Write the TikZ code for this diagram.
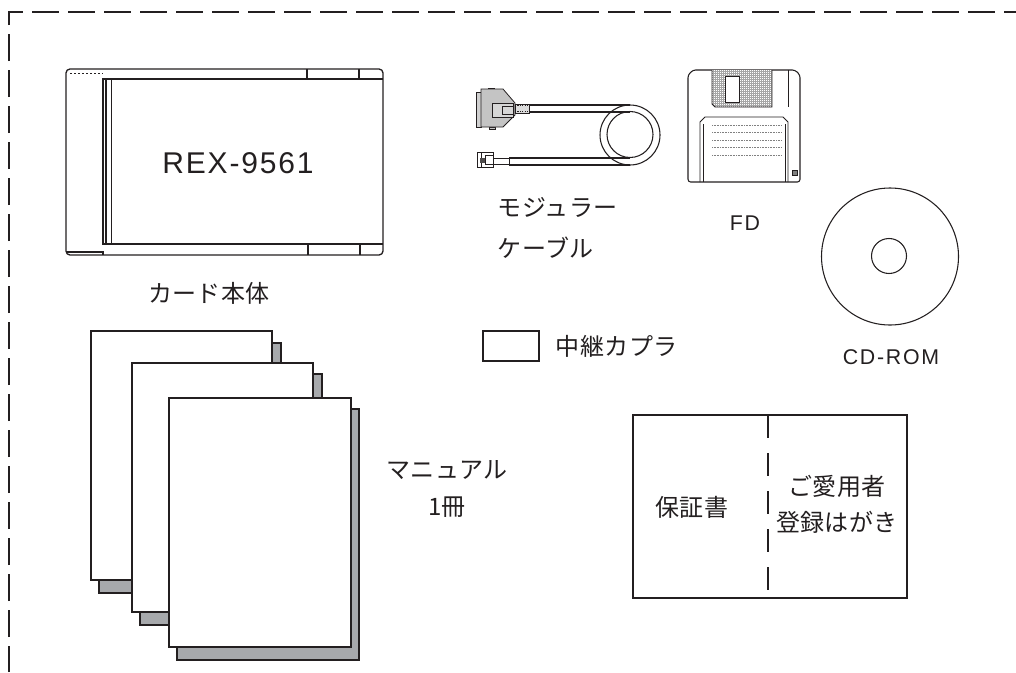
\documentclass[tikz,border=0pt]{standalone}
\usepackage{fontspec}
\setmainfont{Liberation Sans}
\newfontfamily\jpfont[LetterSpace=2]{Noto Sans CJK JP}
\newfontfamily\modelfont[LetterSpace=6]{Liberation Sans}
\newfontfamily\tagfont[LetterSpace=8]{Liberation Sans}
\usetikzlibrary{positioning, calc}
\definecolor{inkgray}{HTML}{231F20}
\definecolor{sheetgray}{HTML}{A7A9AC}
\definecolor{plugray}{HTML}{C4C4C4}

\begin{document}
\begin{tikzpicture}[
    x=0.75pt, y=-0.75pt,
    outline/.style={draw=inkgray, line width=1pt},
    sheet/.style={draw=inkgray, line width=1.5pt, fill=white},
    sheetshadow/.style={draw=inkgray, line width=1.5pt, fill=sheetgray},
    wire/.style={draw=inkgray, line width=0.8pt},
    jp/.style={font=\jpfont\fontsize{18}{28}\selectfont, text=inkgray},
    tag/.style={font=\tagfont\fontsize{16}{19}\selectfont, text=inkgray}
  ]
    \useasboundingbox (0,0) rectangle (1016,672);

    % Box edge (only top and left show)
    \draw[inkgray, line width=1pt, dash pattern=on 20.25pt off 6.75pt, dash phase=0.75pt]
      (9,672) -- (9,12) -- (1016,12);

    % PC card
    \draw[outline, rounded corners=3pt] (66,69) rectangle (383,255);
    \draw[outline] (103,79) -- (383,79) (103,244) -- (383,244);
    \draw[outline] (307,69) -- (307,79) (359,69) -- (359,79);
    \draw[outline] (308,244) -- (308,255) (360,244) -- (360,255);
    \draw[outline] (103,79) rectangle (106,244);
    \draw[inkgray, line width=0.6pt] (111.5,79) -- (111.5,244);
    \draw[inkgray, line width=0.5pt, dash pattern=on 1.5pt off 1.5pt] (70,73) -- (103,73);
    \draw[outline] (66,252) -- (103,252) -- (103,255);
    \node[font=\modelfont\fontsize{22.5}{27}\selectfont, text=inkgray] (model) at (238,163) {REX-9561};
    \node[jp] (cardcap) at (209,293) {カード本体};

    % Modular cable: D-sub end
    \fill[plugray] (488,88) rectangle (494,90) (489,127) rectangle (495,129);
    \draw[inkgray, line width=0.5pt] (488,88) rectangle (494,90) (489,127) rectangle (495,129);
    \draw[inkgray, line width=0.6pt, fill=plugray!80] (476,92) rectangle (481,127);
    \draw[inkgray, line width=0.6pt, fill=plugray]
      (481,89) -- (503,89) -- (515,103) -- (515,115) -- (503,127) -- (481,127) -- cycle;
    \draw[inkgray, line width=0.6pt, fill=plugray!70] (492,103) rectangle (513,117);
    \draw[inkgray, line width=0.5pt] (502,106) rectangle (513,114);
    \draw[inkgray, line width=0.6pt, fill=plugray!60] (515,104) rectangle (529,113);
    \foreach \r in {105.5, 111.5}
      \draw[inkgray, line width=1pt, dash pattern=on 0.9pt off 0.9pt] (515,\r) -- (529,\r);
    % Modular cable: RJ plug end
    \draw[inkgray, line width=0.6pt, fill=white] (477,152) rectangle (493,167);
    \draw[inkgray, line width=0.5pt] (481,152) -- (481,167) (485,155) rectangle (493,164);
    \fill[inkgray!80] (480,158) rectangle (485,163);
    \draw[inkgray, line width=0.6pt, fill=white] (493,158) rectangle (509,164);
    % Cable and coil
    \draw[wire] (529,105) -- (630,105) (529,112) -- (630,112);
    \draw[wire] (509,158) -- (630,158) (509,165) -- (630,165);
    \draw[wire] (630,135) circle[radius=30];
    \draw[wire] (630,134.5) circle[radius=23];
    \node[jp, anchor=west, align=left, font=\jpfont\fontsize{18}{30.75}\selectfont] (cablecap)
      at (493,228) {モジュラー\\ケーブル};

    % Floppy disk
    \draw[outline, line width=0.8pt, rounded corners=2pt]
      (688,182) -- (688,75) -- (693,70) -- (795,70) -- (800,75) -- (800,182) -- cycle;
    \begin{scope}
      \clip (712,70) -- (772,70) -- (772,107) -- (715,107) -- (712,104) -- cycle;
      \fill[white] (712,70) rectangle (772,107);
      \foreach \gx in {713,715,...,771}
        \draw[gray!70, line width=0.3pt] (\gx,70) -- (\gx,107);
      \foreach \gy in {71,73,...,107}
        \draw[gray!70, line width=0.3pt] (712,\gy) -- (772,\gy);
    \end{scope}
    \draw[inkgray, line width=0.7pt] (712,70) -- (712,104) -- (715,107) -- (772,107) -- (772,70);
    \draw[inkgray, line width=0.7pt, fill=white] (725,76) rectangle (739,102);
    \draw[inkgray, line width=0.6pt] (788,70) -- (788,107);
    \draw[inkgray, line width=0.7pt] (700,182) -- (700,122) -- (705,117) -- (783,117) -- (788,122) -- (788,182);
    \draw[inkgray, line width=0.5pt] (703,124) -- (703,182) (785,124) -- (785,182);
    \foreach \ly in {125,132.5,140,147.5,155}
      \draw[gray, line width=0.4pt, dash pattern=on 0.8pt off 0.4pt] (712,\ly) -- (782,\ly);
    \draw[inkgray, line width=0.4pt, fill=gray] (792,170) rectangle (797,175);
    \node[tag] (fdcap) at (745,223) {FD};

    % CD-ROM
    \draw[inkgray, line width=0.8pt] (890,256.5) circle[radius=68.5];
    \draw[inkgray, line width=0.8pt] (889,256) circle[radius=17.5];
    \node[tag] (cdcap) at (891,357) {CD-ROM};

    % Coupler
    \node[draw=inkgray, line width=1.5pt, minimum width=42.5pt, minimum height=22.5pt, inner sep=0pt]
      (coupler) at (511,346) {};
    \node[jp, right=8pt of coupler] (couplercap) {中継カプラ};

    % Manuals
    \draw[sheetshadow] (99,343) rectangle (281,593);
    \draw[sheet] (91,331) rectangle (272,580);
    \draw[sheetshadow] (140,374) rectangle (322,625);
    \draw[sheet] (132,363) rectangle (313,612);
    \draw[sheetshadow] (177,409) rectangle (359,660);
    \draw[sheet] (169,398) rectangle (351,647);
    \node[jp, align=center, font=\jpfont\fontsize{18}{27.75}\selectfont] (manualcap)
      at (447,489) {マニュアル\\1冊};

    % Warranty card with registration postcard
    \draw[sheet] (633,415) rectangle (907,598);
    \draw[inkgray, line width=1.5pt, dash pattern=on 17.25pt off 11.25pt] (768,415) -- (768,598);
    \node[jp] (warrantycap) at (692,507) {保証書};
    \node[jp, align=center, font=\jpfont\fontsize{18}{27}\selectfont] (regcap)
      at (837,504) {ご愛用者\\登録はがき};
\end{tikzpicture}
\end{document}
